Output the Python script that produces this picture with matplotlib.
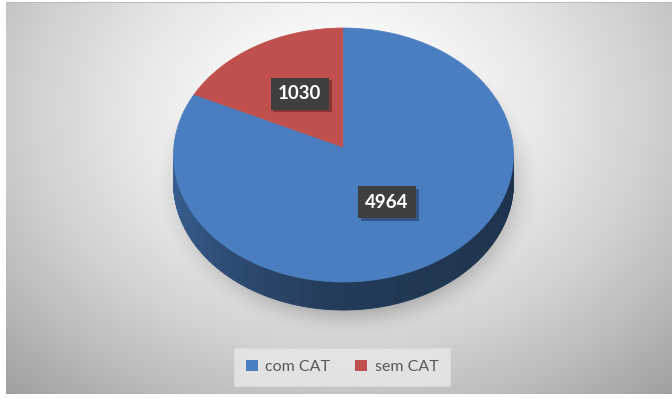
import numpy as np
import matplotlib
matplotlib.use("Agg")
import matplotlib.pyplot as plt
import matplotlib.patheffects as pe
from matplotlib.patches import Patch
from matplotlib.colors import to_rgb

# slice data
labels = ["com CAT", "sem CAT"]
values = [4964, 1030]
colors = ["#4a7ec0", "#c0504d"]

W, H = 672, 398
fig = plt.figure(figsize=(W / 100, H / 100), dpi=100)
ax = fig.add_axes([0, 0, 1, 1])
ax.set_xlim(0, W)
ax.set_ylim(H, 0)
ax.axis("off")

# chart area background: soft radial grey gradient
x0, x1, y0, y1 = 6, 672, 2, 394
gx, gy = np.meshgrid(np.linspace(x0, x1, 400), np.linspace(y0, y1, 240))
d = np.sqrt(((gx - 340) / 380.0) ** 2 + ((gy - 110) / 300.0) ** 2)
g = 1 - 0.25 * np.clip(d, 0, 1.3) ** 1.6
bg = np.dstack([g, g, g])
ax.imshow(bg, extent=(x0, x1, y1, y0), aspect="auto", zorder=0, interpolation="bilinear")
ax.plot([x0, x1], [y0, y0], color="#bdbdbd", lw=0.8, zorder=1)

# pie geometry (pixels)
cx, cy = 343.5, 155.0
rx, ry = 170.0, 127.0
apex_y = 148.0
depth = 28

# soft shadow under the pie
sx, sy = np.meshgrid(np.linspace(140, 560, 420), np.linspace(40, 360, 320))
sd = np.sqrt(((sx - 348) / (rx + 6)) ** 2 + ((sy - (cy + depth)) / (ry + 14)) ** 2)
sa = np.clip((1.12 - sd) / 0.22, 0, 1) ** 2 * 0.22
shadow = np.zeros(sd.shape + (4,))
shadow[..., 3] = sa
ax.imshow(shadow, extent=(140, 560, 360, 40), aspect="auto", zorder=2, interpolation="bilinear")


def ell(t):
    return cx + rx * np.cos(np.radians(t)), cy - ry * np.sin(np.radians(t))


# slice angles, counter-clockwise from the top
fracs = np.array(values[::-1], dtype=float) / sum(values)
bounds = 90 + 360 * np.concatenate([[0], np.cumsum(fracs)])
slice_cols = colors[::-1]
slice_vals = values[::-1]

# side wall along the front half
for i in range(len(slice_vals)):
    a0, a1 = bounds[i], bounds[i + 1]
    base = np.array(to_rgb(slice_cols[i]))
    for t in np.arange(a0, a1, 1.0):
        t2 = min(t + 1.0, a1)
        tm = (t + t2) / 2 % 360
        if not (180 <= tm <= 360):
            continue
        f = np.interp(tm, [180, 240, 270, 320, 360], [0.78, 0.56, 0.46, 0.42, 0.40])
        xa, ya = ell(t)
        xb, yb = ell(t2)
        ax.fill([xa, xb, xb, xa], [ya, yb, yb + depth, ya + depth],
                color=base * f, lw=0.6, ec=base * f, zorder=3)

# top face
for i in range(len(slice_vals)):
    ts = np.linspace(bounds[i], bounds[i + 1], 200)
    ex, ey = ell(ts)
    px = np.concatenate([[cx], ex])
    py = np.concatenate([[apex_y], ey])
    ax.fill(px, py, color=slice_cols[i], lw=0.5, ec=slice_cols[i], zorder=4)

# value labels in dark boxes with a drop shadow
for i in range(len(slice_vals)):
    mid = (bounds[i] + bounds[i + 1]) / 2
    lx = cx + 0.5 * rx * np.cos(np.radians(mid))
    ly = apex_y - 0.5 * ry * np.sin(np.radians(mid))
    t = ax.text(lx, ly, str(slice_vals[i]), fontsize=13.5, fontweight="bold",
                family="Lato", color="white", ha="center", va="center", zorder=6,
                bbox=dict(boxstyle="square,pad=0.4", fc="#3f3f3f", ec="none"))
    t.get_bbox_patch().set_path_effects(
        [pe.SimplePatchShadow(offset=(2, -2), shadow_rgbFace="black", alpha=0.3), pe.Normal()])

# legend
handles = [Patch(facecolor=c, edgecolor="none") for c in colors]
leg = fig.legend(handles, labels, loc="center", bbox_to_anchor=(342 / W, 1 - 367 / H),
                 ncol=2, frameon=True, fancybox=False,
                 handlelength=0.75, handleheight=0.75, handletextpad=0.45,
                 columnspacing=1.6, borderpad=0.75, labelcolor="#595959",
                 prop={"family": "Lato", "size": 11.5})
leg.get_frame().set_facecolor("#e9e9e9")
leg.get_frame().set_edgecolor("#dcdcdc")
leg.get_frame().set_linewidth(0.8)

fig.savefig("out.png", dpi=100)
